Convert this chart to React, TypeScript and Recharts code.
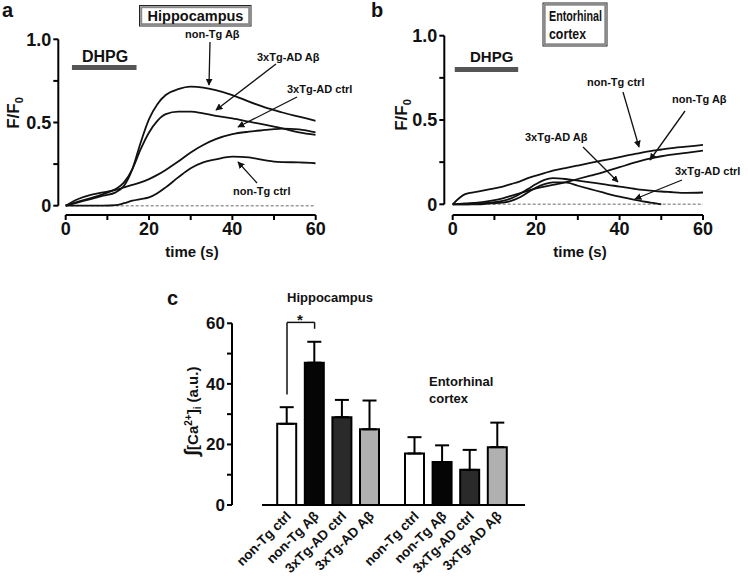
import React from 'react';
import { LineChart, Line, XAxis, YAxis, ReferenceLine, BarChart, Bar, Cell, ErrorBar } from 'recharts';

const FONT = '"Liberation Sans", Arial, Helvetica, sans-serif';

// ---------- Panels a & b : time courses ----------
const timeS = [0, 3, 6, 9, 12, 14, 16, 18, 20, 22, 24, 27, 30, 33, 36, 40, 44, 48, 50, 52, 56, 60];

// Hippocampus (panel a)
const hipNonTgCtrl = [0, 0, 0, 0, 0.003, 0.015, 0.03, 0.04, 0.05, 0.075, 0.11, 0.17, 0.225, 0.26, 0.278, 0.295, 0.29, 0.272, 0.265, 0.262, 0.26, 0.255];
const hipNonTgAb = [0, 0.02, 0.04, 0.06, 0.08, 0.12, 0.22, 0.38, 0.52, 0.61, 0.665, 0.7, 0.715, 0.71, 0.695, 0.665, 0.625, 0.59, 0.575, 0.56, 0.535, 0.51];
const hip3xCtrl = [0, 0.04, 0.065, 0.08, 0.095, 0.11, 0.125, 0.14, 0.16, 0.185, 0.215, 0.265, 0.32, 0.365, 0.4, 0.43, 0.445, 0.455, 0.46, 0.463, 0.458, 0.44];
const hip3xAb = [0, 0.025, 0.045, 0.07, 0.1, 0.14, 0.22, 0.34, 0.44, 0.51, 0.55, 0.565, 0.565, 0.555, 0.54, 0.525, 0.505, 0.485, 0.475, 0.465, 0.44, 0.425];

// Entorhinal cortex (panel b)
const ecNonTgCtrl = [0, 0.06, 0.075, 0.09, 0.105, 0.12, 0.135, 0.155, 0.17, 0.185, 0.2, 0.215, 0.23, 0.245, 0.26, 0.28, 0.3, 0.318, 0.325, 0.332, 0.342, 0.352];
const ecNonTgAb = [0, 0.005, 0.01, 0.02, 0.035, 0.05, 0.065, 0.08, 0.095, 0.105, 0.115, 0.13, 0.15, 0.17, 0.19, 0.22, 0.25, 0.275, 0.285, 0.293, 0.305, 0.318];
const ec3xAb = [0, 0, 0.005, 0.01, 0.02, 0.035, 0.06, 0.09, 0.12, 0.145, 0.155, 0.15, 0.14, 0.13, 0.12, 0.105, 0.09, 0.08, 0.076, 0.073, 0.068, 0.07];
const ec3xCtrl: (number | null)[] = [0, 0, 0, 0.005, 0.01, 0.02, 0.04, 0.07, 0.1, 0.12, 0.13, 0.13, 0.11, 0.09, 0.07, 0.045, 0.025, 0.008, 0, null, null, null];

// DHPG application (s) and bar level
const dhpgA = { start: 1.5, end: 17, level: 0.83 };
const dhpgB = { start: 0.5, end: 15.7, level: 0.8 };

const xTicks = [0, 10, 20, 30, 40, 50, 60];
const yTicks = [0, 0.25, 0.5, 0.75, 1];

// ---------- Panel c : integrated Ca2+ ----------
const barLabels = ['non-Tg ctrl', 'non-Tg Aβ', '3xTg-AD ctrl', '3xTg-AD Aβ', 'non-Tg ctrl', 'non-Tg Aβ', '3xTg-AD ctrl', '3xTg-AD Aβ'];
const barMeans = [26.8, 47, 29, 25, 17, 14.2, 11.6, 19.1];
const barErrs = [5.5, 6.9, 5.7, 9.5, 5.4, 5.5, 6.6, 8.1];
const barFills = ['#ffffff', '#050505', '#2a2a2a', '#b0b0b0', '#ffffff', '#050505', '#2a2a2a', '#b0b0b0'];
const cTicks = [0, 10, 20, 30, 40, 50, 60];

const GROUP_GAP = 0.63;
const barTable = barLabels.map((label, i) => ({
  pos: i + (i >= 4 ? GROUP_GAP : 0),
  label,
  value: barMeans[i],
  err: [0, barErrs[i]],
}));

const tickStyle = { fill: '#111', fontSize: 18, fontWeight: 'bold' as const, fontFamily: FONT };

function makeRows(cols: (number | null)[][]) {
  return timeS.map((t, i) => {
    const r: any = { t };
    cols.forEach((c, k) => (r['s' + k] = c[i]));
    return r;
  });
}

type TraceProps = {
  left: number;
  width: number;
  margin: { top: number; right: number; bottom: number; left: number };
  xMin: number;
  yMin: number;
  cols: (number | null)[][];
  dhpg: { start: number; end: number; level: number };
};

function TracePanel({ left, width, margin, xMin, yMin, cols, dhpg }: TraceProps) {
  const rows = makeRows(cols);
  return (
    <div style={{ position: 'absolute', left, top: 0 }}>
      <LineChart width={width} height={260} data={rows} margin={margin}>
        <XAxis
          type="number"
          dataKey="t"
          domain={[xMin, 60]}
          allowDataOverflow
          ticks={xTicks}
          tickFormatter={(v: number) => (v % 20 === 0 ? String(v) : '')}
          axisLine={false}
          tickLine={{ stroke: '#000', strokeWidth: 2 }}
          tickSize={5}
          tickMargin={2}
          height={30}
          tick={tickStyle}
        />
        <YAxis
          type="number"
          domain={[yMin, 1]}
          allowDataOverflow
          ticks={yTicks}
          tickFormatter={(v: number) => (v === 1 ? '1.0' : v === 0.5 ? '0.5' : v === 0 ? '0' : '')}
          axisLine={false}
          tickLine={{ stroke: '#000', strokeWidth: 2 }}
          tickSize={5}
          tickMargin={2}
          width={40}
          tick={tickStyle}
        />
        <ReferenceLine segment={[{ x: 0, y: 0 }, { x: 60, y: 0 }]} stroke="#9a9a9a" strokeWidth={1.5} strokeDasharray="3 2" ifOverflow="visible" />
        <ReferenceLine segment={[{ x: xMin, y: 0 }, { x: xMin, y: 1 }]} stroke="#000" strokeWidth={2} ifOverflow="visible" />
        <ReferenceLine segment={[{ x: 0, y: yMin }, { x: 60, y: yMin }]} stroke="#000" strokeWidth={2} ifOverflow="visible" />
        <ReferenceLine segment={[{ x: dhpg.start, y: dhpg.level }, { x: dhpg.end, y: dhpg.level }]} stroke="#555" strokeWidth={5} ifOverflow="visible" />
        {cols.map((_, k) => (
          <Line key={k} type="monotone" dataKey={'s' + k} stroke="#111" strokeWidth={1.8} dot={false} isAnimationActive={false} connectNulls={false} />
        ))}
      </LineChart>
    </div>
  );
}

const BarTick = (props: any) => {
  const { x, y, payload } = props;
  const idx = barTable.findIndex((d) => Math.abs(d.pos - payload.value) < 1e-6);
  if (idx < 0) return null;
  const ax = x + 5;
  const ay = y + 12;
  return (
    <text x={ax} y={ay} transform={`rotate(-45 ${ax} ${ay})`} textAnchor="end" fontSize={13.5} fontWeight="bold" fontFamily={FONT} fill="#111">
      {barTable[idx].label}
    </text>
  );
};

const C_XMIN = -1.993;
const C_XMAX = 8.623;
const C_LINE_START = -0.906;

function BarPanel() {
  return (
    <div style={{ position: 'absolute', left: 150, top: 280 }}>
      <BarChart width={400} height={299} data={barTable} margin={{ top: 43.3, right: 25, bottom: 0, left: 42 }}>
        <XAxis
          type="number"
          dataKey="pos"
          domain={[C_XMIN, C_XMAX]}
          allowDataOverflow
          ticks={barTable.map((d) => d.pos)}
          axisLine={false}
          tickLine={false}
          tickSize={0}
          tickMargin={0}
          height={74}
          interval={0}
          tick={<BarTick />}
        />
        <YAxis
          type="number"
          domain={[0, 60]}
          allowDataOverflow
          ticks={cTicks}
          tickFormatter={(v: number) => (v % 20 === 0 ? String(v) : '')}
          axisLine={{ stroke: '#000', strokeWidth: 2 }}
          tickLine={{ stroke: '#000', strokeWidth: 2 }}
          tickSize={5}
          tickMargin={2}
          width={40}
          tick={{ ...tickStyle, fontSize: 17 }}
        />
        <Bar dataKey="value" barSize={19} stroke="#000" strokeWidth={2} isAnimationActive={false}>
          {barTable.map((d, i) => (
            <Cell key={i} fill={barFills[i]} />
          ))}
          <ErrorBar dataKey="err" width={7} stroke="#000" strokeWidth={2} direction="y" />
        </Bar>
        <ReferenceLine segment={[{ x: C_LINE_START, y: 0 }, { x: C_XMAX, y: 0 }]} stroke="#000" strokeWidth={2} ifOverflow="visible" />
        <ReferenceLine segment={[{ x: barTable[0].pos, y: 36.5 }, { x: barTable[0].pos, y: 60.3 }]} stroke="#111" strokeWidth={1.5} ifOverflow="visible" />
        <ReferenceLine segment={[{ x: barTable[0].pos, y: 60.3 }, { x: barTable[1].pos, y: 60.3 }]} stroke="#111" strokeWidth={1.5} ifOverflow="visible" />
        <ReferenceLine segment={[{ x: barTable[1].pos, y: 60.3 }, { x: barTable[1].pos, y: 58.2 }]} stroke="#111" strokeWidth={1.5} ifOverflow="visible" />
      </BarChart>
    </div>
  );
}

const lbl = { fontFamily: FONT, fontWeight: 'bold' as const, fill: '#111' };

function Arrow({ x1, y1, x2, y2 }: { x1: number; y1: number; x2: number; y2: number }) {
  return <line x1={x1} y1={y1} x2={x2} y2={y2} stroke="#111" strokeWidth={1.3} markerEnd="url(#ah)" />;
}

function Overlay() {
  return (
    <svg width={748} height={579} style={{ position: 'absolute', left: 0, top: 0, pointerEvents: 'none' }}>
      <defs>
        <marker id="ah" viewBox="0 0 10 10" refX="9" refY="5" markerUnits="userSpaceOnUse" markerWidth="7" markerHeight="7" orient="auto">
          <path d="M0,0 L10,5 L0,10 z" fill="#111" />
        </marker>
      </defs>
      {/* panel letters */}
      <text x={2} y={17} fontSize={20} {...lbl}>a</text>
      <text x={371} y={17} fontSize={20} {...lbl}>b</text>
      <text x={167} y={305} fontSize={20} {...lbl}>c</text>

      {/* panel a */}
      <rect x={139.5} y={5.5} width={111.5} height={20.5} fill="#fff" stroke="#222" strokeWidth={1} />
      <rect x={141.2} y={7.2} width={108} height={17} fill="#fff" stroke="#888" strokeWidth={2} />
      <text x={195.5} y={21} fontSize={14.5} textAnchor="middle" {...lbl}>Hippocampus</text>
      <text x={82} y={62} fontSize={16} {...lbl}>DHPG</text>
      <text x={18.5} y={113} fontSize={17} textAnchor="middle" transform="rotate(-90 18.5 113)" {...lbl}>
        <tspan>F/F</tspan>
        <tspan fontSize={11} dy={4}>0</tspan>
      </text>
      <text x={192} y={257} fontSize={15} textAnchor="middle" {...lbl}>time (s)</text>

      <text x={185} y={38} fontSize={11} {...lbl}>non-Tg Aβ</text>
      <Arrow x1={210} y1={42} x2={209} y2={85} />
      <text x={257} y={61} fontSize={11} {...lbl}>3xTg-AD Aβ</text>
      <Arrow x1={276} y1={64} x2={216} y2={110} />
      <text x={287} y={93} fontSize={11} {...lbl}>3xTg-AD ctrl</text>
      <Arrow x1={297} y1={97} x2={238} y2={127} />
      <text x={233} y={195} fontSize={11} {...lbl}>non-Tg ctrl</text>
      <Arrow x1={257} y1={183} x2={238} y2={162} />

      {/* panel b */}
      <rect x={543} y={3} width={64} height={43} fill="#fff" stroke="#222" strokeWidth={1} />
      <rect x={544.7} y={4.7} width={60.6} height={39.6} fill="#fff" stroke="#888" strokeWidth={2} />
      <text x={549} y={21} fontSize={14.5} textLength={53} lengthAdjust="spacingAndGlyphs" {...lbl}>Entorhinal</text>
      <text x={549} y={38.5} fontSize={14.5} textLength={37} lengthAdjust="spacingAndGlyphs" {...lbl}>cortex</text>
      <text x={470} y={62} fontSize={15} {...lbl}>DHPG</text>
      <text x={407} y={115} fontSize={17} textAnchor="middle" transform="rotate(-90 407 115)" {...lbl}>
        <tspan>F/F</tspan>
        <tspan fontSize={11} dy={4}>0</tspan>
      </text>
      <text x={580} y={257} fontSize={15} textAnchor="middle" {...lbl}>time (s)</text>

      <text x={587} y={86} fontSize={11} {...lbl}>non-Tg ctrl</text>
      <Arrow x1={623} y1={92} x2={639} y2={147} />
      <text x={672} y={103} fontSize={11} {...lbl}>non-Tg Aβ</text>
      <Arrow x1={685} y1={111} x2={650} y2={160} />
      <text x={525} y={141} fontSize={11} {...lbl}>3xTg-AD Aβ</text>
      <Arrow x1={583} y1={147} x2={618} y2={182} />
      <text x={675} y={175} fontSize={11} {...lbl}>3xTg-AD ctrl</text>
      <Arrow x1={682} y1={180} x2={635} y2={199} />

      {/* panel c */}
      <text x={287} y={302} fontSize={13} {...lbl}>Hippocampus</text>
      <text x={300} y={325} fontSize={15} textAnchor="middle" {...lbl}>*</text>
      <text x={429} y={386} fontSize={13} {...lbl}>Entorhinal</text>
      <text x={429} y={403} fontSize={13} {...lbl}>cortex</text>
      <text transform="translate(198 411) rotate(-90)" x={0} y={0} fontSize={15} textAnchor="middle" {...lbl}>
        <tspan fontSize={20}>∫</tspan>
        <tspan>[Ca</tspan>
        <tspan fontSize={10} dy={-6}>2+</tspan>
        <tspan dy={6}>]</tspan>
        <tspan fontSize={10} dy={3}>i</tspan>
        <tspan dy={-3}> (a.u.)</tspan>
      </text>
    </svg>
  );
}

export default function App() {
  return (
    <div style={{ position: 'absolute', left: 0, top: 0, width: 748, height: 579, background: '#fff', overflow: 'hidden', fontFamily: FONT }}>
      <TracePanel
        left={0}
        width={370}
        margin={{ top: 39.3, right: 54.3, bottom: 15, left: 18.3 }}
        xMin={-1.776}
        yMin={-0.056}
        cols={[hipNonTgCtrl, hipNonTgAb, hip3xCtrl, hip3xAb]}
        dhpg={dhpgA}
      />
      <TracePanel
        left={370}
        width={378}
        margin={{ top: 35.7, right: 45, bottom: 15, left: 34.3 }}
        xMin={-2.01}
        yMin={-0.0635}
        cols={[ecNonTgCtrl, ecNonTgAb, ec3xAb, ec3xCtrl]}
        dhpg={dhpgB}
      />
      <BarPanel />
      <Overlay />
    </div>
  );
}
